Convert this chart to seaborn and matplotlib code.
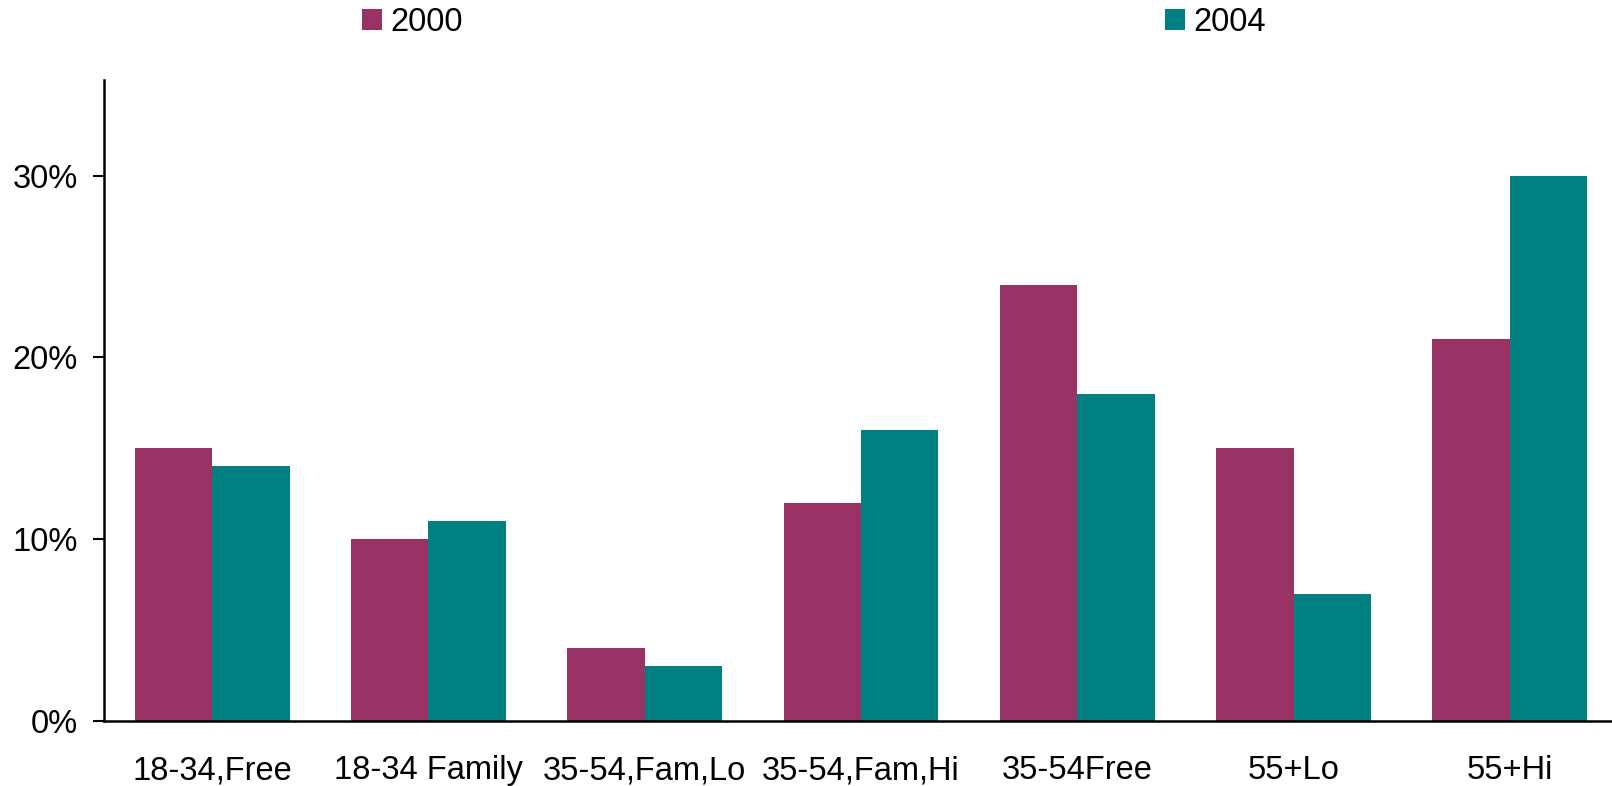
import numpy as np
import pandas as pd
import matplotlib
matplotlib.use("Agg")
import matplotlib.pyplot as plt
import seaborn as sns
from matplotlib.ticker import FuncFormatter

# Chart data (percent)
categories = ["18-34,Free", "18-34 Family", "35-54,Fam,Lo", "35-54,Fam,Hi",
              "35-54Free", "55+Lo", "55+Hi"]
years = ["2000", "2004"]
values_2000 = [15, 10, 4, 12, 24, 15, 21]
values_2004 = [14, 11, 3, 16, 18, 7, 30]
yticks = [0, 10, 20, 30]

df = pd.DataFrame({
    "segment": categories * 2,
    "year": [years[0]] * len(categories) + [years[1]] * len(categories),
    "share": values_2000 + values_2004,
})

sns.set_theme(style="white")
plt.rcParams["font.family"] = ["Liberation Sans", "DejaVu Sans"]
plt.rcParams["text.color"] = "black"

fs = 23.5

fig = plt.figure(figsize=(16.12, 7.86), dpi=100)
ax = fig.add_axes([104 / 1612, 1 - 720.7 / 786, 1514 / 1612, 640.7 / 786])

palette = {"2000": "#993366", "2004": "#008080"}
sns.barplot(data=df, x="segment", y="share", hue="year", palette=palette,
            width=0.716, gap=0, linewidth=0, saturation=1, ax=ax)

ax.set_xlim(-0.5, 6.5)
ax.set_ylim(0, 35.26)
ax.set_yticks(yticks)
ax.yaxis.set_major_formatter(FuncFormatter(lambda v, p: f"{v:.0f}%"))
ax.set_xlabel("")
ax.set_ylabel("")

ax.tick_params(axis="y", left=True, length=8, width=1.5, color="black",
               pad=11, labelsize=fs, labelcolor="black")
ax.tick_params(axis="x", bottom=False, length=0, pad=25, labelsize=fs,
               labelcolor="black")

sns.despine(ax=ax, top=True, right=True)
for side in ["left", "bottom"]:
    ax.spines[side].set_color("black")
    ax.spines[side].set_linewidth(1.8)

sns.move_legend(ax, "upper left", bbox_to_anchor=(362 / 1612, 1 - 7 / 786),
                bbox_transform=fig.transFigure, ncol=2, title=None,
                frameon=False, fontsize=fs, columnspacing=21.5,
                handlelength=0.62, handleheight=0.62, handletextpad=0.25,
                borderpad=0, borderaxespad=0)

fig.savefig("out.png", dpi=100)
